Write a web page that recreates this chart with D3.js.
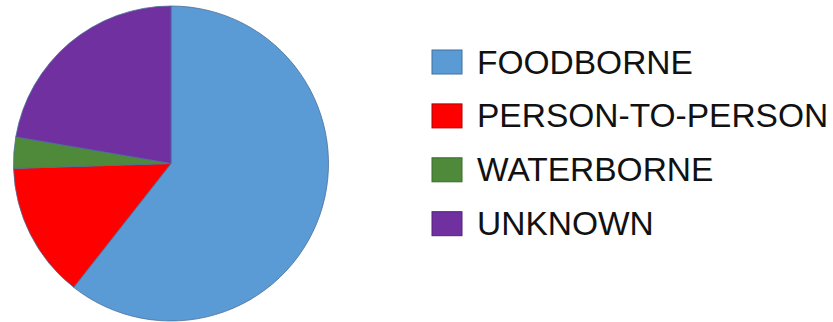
<!DOCTYPE html>
<html>
<head>
<meta charset="utf-8">
<script src="https://cdn.jsdelivr.net/npm/d3@7"></script>
<style>
  body { margin: 0; background: #fff; }
  text { font-family: "Liberation Sans", Arial, sans-serif; }
</style>
</head>
<body>
<div id="chart"></div>
<script>
// outbreak transmission modes, share of total (%)
let categories = ["FOODBORNE", "PERSON-TO-PERSON", "WATERBORNE", "UNKNOWN"];
let values = [60.6, 13.9, 3.2, 22.3];
let colors = ["#5b9bd5", "#ff0000", "#4e8a3a", "#7030a0"];
let strokes = ["#41719c", "#b00000", "#3a6a2a", "#52207a"];

let width = 833;
let height = 322;

let svg = d3.select("#chart")
  .append("svg")
  .attr("width", width).attr("height", height);

let cx = 171;
let cy = 163.5;
let radius = 157.5;

let pie = d3.pie().sort(null).value(d => d);
let arc = d3.arc().innerRadius(0).outerRadius(radius);

let slices = svg.append("g")
  .attr("transform", `translate(${cx},${cy})`);

slices.selectAll("path")
  .data(pie(values))
  .enter()
  .append("path")
  .attr("d", arc)
  .attr("fill", (d, i) => colors[i])
  .attr("stroke", "#4a6e98")
  .attr("stroke-width", 0.8);

// legend
let legend = svg.append("g").attr("transform", "translate(432,50)");
let step = 53.9;

let rows = legend.selectAll("g")
  .data(categories)
  .enter()
  .append("g")
  .attr("transform", (d, i) => `translate(0,${i * step})`);

rows.append("rect")
  .attr("x", 0).attr("y", 0)
  .attr("width", 30).attr("height", 24)
  .attr("fill", (d, i) => colors[i])
  .attr("stroke", (d, i) => strokes[i])
  .attr("stroke-width", 1);

rows.append("text")
  .attr("x", 45)
  .attr("y", 23.5)
  .style("font-size", "33.5px")
  .attr("fill", "#111")
  .text(d => d);
</script>
</body>
</html>
